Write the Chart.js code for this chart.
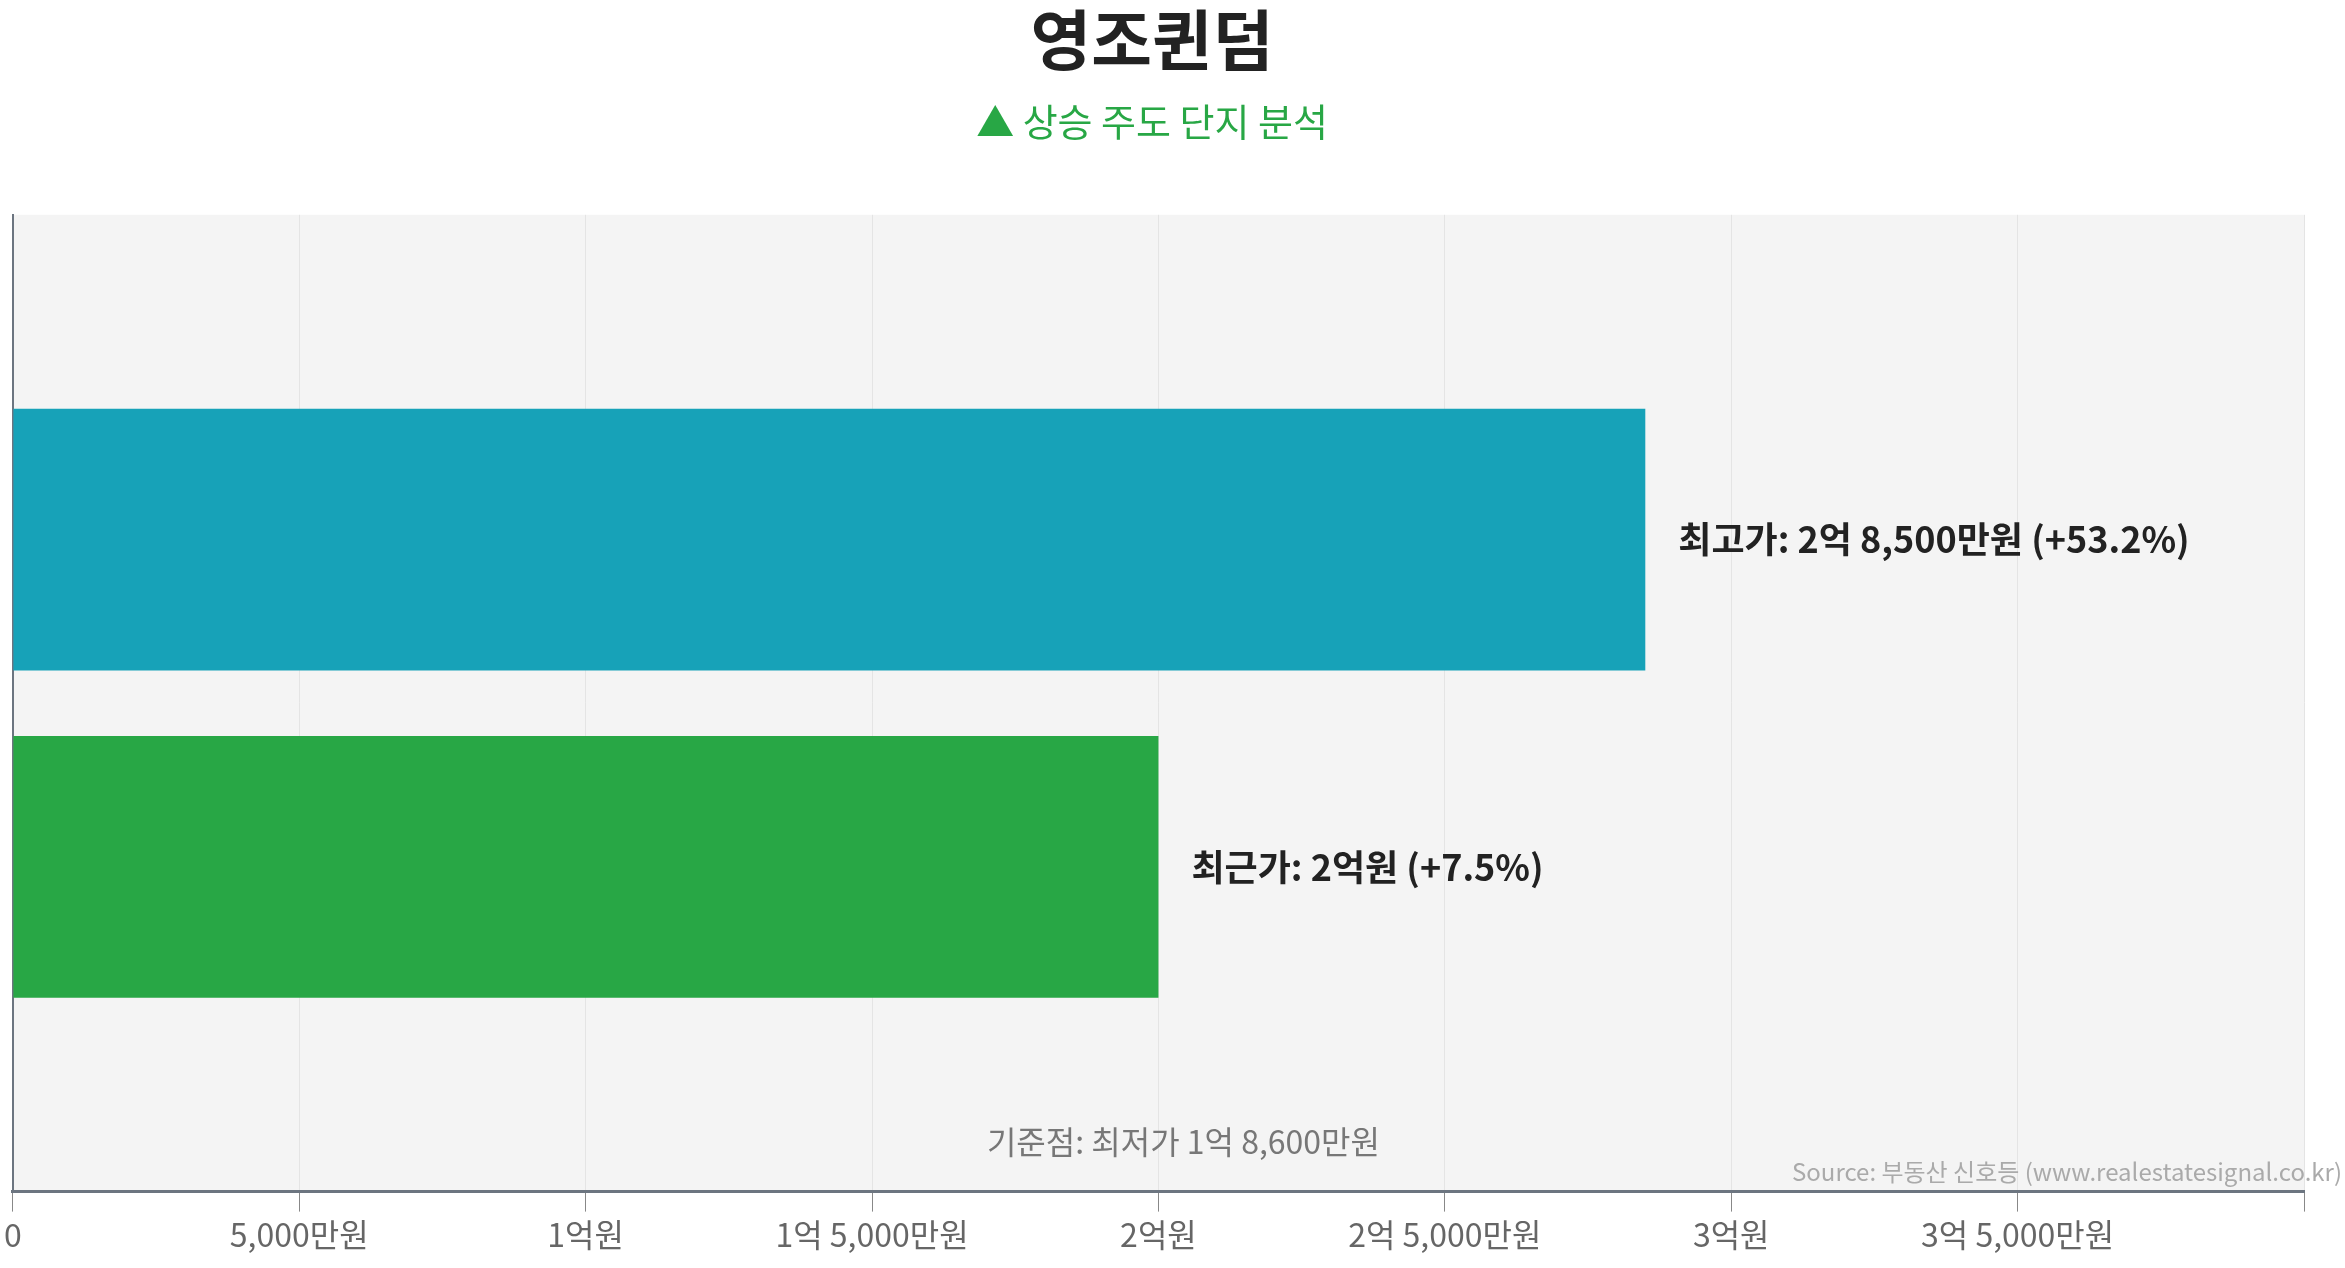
<!DOCTYPE html>
<html><head><meta charset="utf-8">
<script src="https://cdn.jsdelivr.net/npm/chart.js@4"></script>
<style>html,body{margin:0;padding:0;background:#fff}#w{width:2345px;height:1268px}</style>
</head><body><div id="w"><canvas id="c"></canvas></div>
<script>
const categories = ['영조퀸덤'];
const seriesNames = ['최고가', '최근가'];
const highValues = [28500];
const recentValues = [20000];
const barLabels = ['최고가: 2억 8,500만원 (+53.2%)', '최근가: 2억원 (+7.5%)'];
const baseNote = '기준점: 최저가 1억 8,600만원';
const sourceNote = 'Source: 부동산 신호등 (www.realestatesignal.co.kr)';
const axisMax = 40000;

const F = "'Noto Sans CJK KR','Noto Sans',sans-serif";
function fmt(v){
  if(v===0) return '0';
  const eok=Math.floor(v/10000), man=v%10000;
  if(eok===0) return man.toLocaleString('en-US')+'만원';
  if(man===0) return eok+'억원';
  return eok+'억 '+man.toLocaleString('en-US')+'만원';
}
const deco = {
  id:'deco',
  beforeDraw(ch){
    const a=ch.chartArea, x=ch.ctx;
    x.save(); x.fillStyle='#f4f4f4'; x.fillRect(a.left,a.top,a.right-a.left,a.bottom-a.top); x.restore();
  },
  afterDatasetsDraw(ch){
    const x=ch.ctx, a=ch.chartArea;
    x.save();
    x.font='bold 36px '+F; x.fillStyle='#222'; x.textBaseline='middle'; x.textAlign='left';
    ch.data.datasets.forEach((d,i)=>{
      const el=ch.getDatasetMeta(i).data[0];
      x.fillText(barLabels[i], el.x+33, el.y);
    });
    x.font='32px '+F; x.fillStyle='#777'; x.textAlign='center';
    x.fillText(baseNote, (a.left+a.right)/2+25, 1142);
    x.font='24px '+F; x.fillStyle='#aaa'; x.textAlign='right';
    x.fillText(sourceNote, 2342, 1172);
    x.restore();
  }
};
new Chart(document.getElementById('c'),{
  type:'bar',
  data:{labels:categories,datasets:[
    {label:seriesNames[0],data:highValues,backgroundColor:'#17a2b8',barPercentage:0.8,categoryPercentage:0.67},
    {label:seriesNames[1],data:recentValues,backgroundColor:'#28a745',barPercentage:0.8,categoryPercentage:0.67}
  ]},
  options:{
    indexAxis:'y',responsive:true,maintainAspectRatio:false,animation:false,
    layout:{padding:{left:0,right:41,top:0,bottom:10}},
    plugins:{
      legend:{display:false},tooltip:{enabled:false},
      title:{display:true,text:'영조퀸덤',color:'#222',font:{family:F,size:66,weight:'bold'},padding:{top:0,bottom:20}},
      subtitle:{display:true,text:'▲ 상승 주도 단지 분석',color:'#28a745',font:{family:F,size:38},padding:{top:0,bottom:70}}
    },
    scales:{
      x:{min:0,max:axisMax,
        grid:{color:'#e4e4e4',drawTicks:true,tickLength:20,tickColor:'#888'},
        border:{color:'#6c7580',width:3},
        ticks:{stepSize:5000,color:'#666',font:{family:F,size:32},padding:4,
          callback:(v)=> v>=axisMax ? '' : fmt(v)}},
      y:{display:true,grid:{display:false},border:{color:'#6c7580',width:2},ticks:{display:false}}
    }
  },
  plugins:[deco]
});
</script></body></html>
